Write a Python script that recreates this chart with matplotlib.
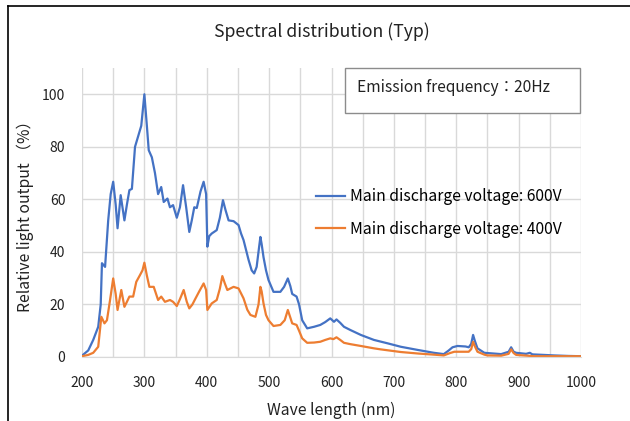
import matplotlib
matplotlib.use("Agg")
import matplotlib.pyplot as plt
from matplotlib.lines import Line2D
from matplotlib.patches import Rectangle

plt.rcParams['font.family'] = ['Noto Sans CJK JP', 'DejaVu Sans']

# wavelength (nm) / relative output (%)
wl_600 = [200, 210, 218, 226, 230, 232, 237, 242, 246, 250, 254, 257, 262, 268, 272,
          276, 280, 285, 290, 295, 300, 304, 307, 312, 317, 322, 327, 331, 337, 341,
          346, 352, 357, 362, 367, 372, 376, 380, 384, 390, 395, 399, 401, 404, 408,
          416, 421, 426, 430, 435, 443, 451, 455, 459, 467, 472, 476, 480, 484, 486,
          488, 491, 495, 499, 507, 518, 524, 530, 534, 537, 544, 548, 553, 561, 572,
          582, 590, 598, 604, 608, 614, 620, 630, 647, 668, 690, 711, 738, 764, 780,
          788, 794, 802, 815, 820, 824, 827, 830, 834, 845, 872, 884, 888, 892, 896,
          912, 918, 922, 940, 957, 980, 1000]
val_600 = [0.5, 2.5, 6.5, 11.5, 20, 35.7, 34.3, 52, 62, 66.7, 58, 49, 61.6, 52, 58,
           63.5, 64, 80, 84, 88, 100, 88, 78.7, 76, 70, 62, 64.7, 59, 60.3, 57,
           57.8, 53, 57, 65.4, 57, 47.6, 52, 57, 56.7, 63, 66.7, 62, 42, 46, 47,
           48.3, 53, 59.7, 56, 52, 51.7, 50.2, 47, 44.5, 37, 33, 31.8, 34.3, 42, 45.7,
           43, 38, 33, 29.3, 24.8, 24.8, 26.7, 29.9, 27, 24, 23, 20, 14, 10.9, 11.5,
           12.2, 13.3, 14.7, 13.4, 14.3, 13, 11.5, 10.3, 8.4, 6.5, 5.2, 3.9, 2.7, 1.6, 1.1,
           2.5, 3.7, 4.2, 4.0, 3.7, 5, 8.4, 6, 3.3, 1.6, 1.1, 2, 3.7, 2, 1.6,
           1.2, 1.6, 1.0, 0.8, 0.6, 0.4, 0.3]

wl_400 = [200, 210, 218, 226, 231, 236, 240, 245, 250, 254, 257, 263, 268, 272, 276,
          282, 287, 293, 297, 300, 304, 308, 315, 322, 327, 333, 341, 346, 352, 357,
          363, 368, 372, 377, 382, 388, 395, 399, 401, 408, 416, 421, 425, 429, 433,
          443, 451, 459, 465, 470, 478, 483, 486, 488, 491, 495, 499, 507, 518, 525,
          530, 534, 537, 544, 548, 553, 561, 572, 582, 590, 598, 603, 608, 614, 620,
          630, 647, 668, 679, 711, 740, 764, 780, 790, 797, 812, 820, 824, 827, 830,
          834, 845, 850, 872, 884, 888, 892, 896, 925, 1000]
val_400 = [0.3, 0.8, 1.6, 3.9, 15.3, 12.8, 14, 21.7, 29.9, 24, 17.9, 25.5, 19.1, 21, 23,
           23, 28.6, 31.2, 33, 35.9, 31, 26.7, 26.7, 21.7, 23, 21, 21.7, 21, 19.4, 22,
           25.5, 21, 18.5, 20, 22.3, 25, 28, 25.5, 17.9, 20.4, 21.7, 26, 30.8, 28, 25.5,
           26.7, 26.1, 22.3, 18, 16, 15.3, 20, 26.7, 25, 20.4, 16, 14, 11.8, 12.2, 14,
           17.9, 15, 12.8, 12.2, 10, 7.1, 5.4, 5.5, 5.8, 6.5, 7.1, 6.8, 7.5, 6.5, 5.4,
           4.9, 4.2, 3.3, 2.9, 1.9, 1.3, 0.9, 0.6, 1.5, 2, 2, 2, 3, 5.8, 4,
           2, 0.9, 0.6, 0.5, 1.2, 2.9, 1.5, 0.8, 0.3, 0.3]

labels = ["Main discharge voltage: 600V", "Main discharge voltage: 400V"]
x_ticks = list(range(200, 1001, 100))
y_ticks = list(range(0, 101, 20))

fig = plt.figure(figsize=(6.3, 4.21), dpi=100)
ax = fig.add_axes([82 / 630, 1 - 357 / 421, 499 / 630, 289 / 421])

ax.plot(wl_600, val_600, color="#4472C4", lw=1.6, label=labels[0])
ax.plot(wl_400, val_400, color="#ED7D31", lw=1.6, label=labels[1])

ax.set_xlim(200, 1000)
ax.set_ylim(0, 110)
ax.set_xticks(x_ticks)
ax.set_xticks(range(250, 1000, 100), minor=True)
ax.set_yticks(y_ticks)
ax.grid(which="both", color="#d9d9d9", lw=1)
ax.set_axisbelow(True)
for s in ["top", "right", "left"]:
    ax.spines[s].set_visible(False)
ax.spines["bottom"].set_color("#d9d9d9")
ax.tick_params(which="both", length=0, labelsize=10, colors="#222222")
ax.tick_params(axis="y", pad=12)
ax.tick_params(axis="x", pad=14)

ax.set_xlabel("Wave length (nm)", fontsize=11.3, color="#222222", labelpad=8)
ax.set_ylabel("Relative light output （%）", fontsize=11.3, color="#222222", labelpad=6)

fig.text(322 / 630, 1 - 32 / 421, "Spectral distribution (Typ)", fontsize=12.7,
         ha="center", va="center", color="#222222")

# emission frequency box
fig.add_artist(Rectangle((345 / 630, 1 - 113 / 421), 235 / 630, 45 / 421,
                         transform=fig.transFigure, facecolor="white",
                         edgecolor="#8c8c8c", lw=1, zorder=5))
fig.text(357 / 630, 1 - 88 / 421, "Emission frequency：20Hz", fontsize=11.2,
         ha="left", va="center", color="#222222", zorder=6)

ax.legend(loc="upper left", bbox_to_anchor=(316 / 630, 1 - 188 / 421),
          bbox_transform=fig.transFigure, frameon=False, fontsize=11.3,
          handlelength=1.85, handletextpad=0.3, borderpad=0, borderaxespad=0,
          labelspacing=1.0)

# figure frame (left and top edges only visible)
fig.add_artist(Line2D([8 / 630, 8 / 630], [0, 1 - 6 / 421], color="black", lw=1.2,
                      transform=fig.transFigure))
fig.add_artist(Line2D([8 / 630, 1], [1 - 6 / 421, 1 - 6 / 421], color="black", lw=1.2,
                      transform=fig.transFigure))

fig.savefig("out.png", dpi=100)
